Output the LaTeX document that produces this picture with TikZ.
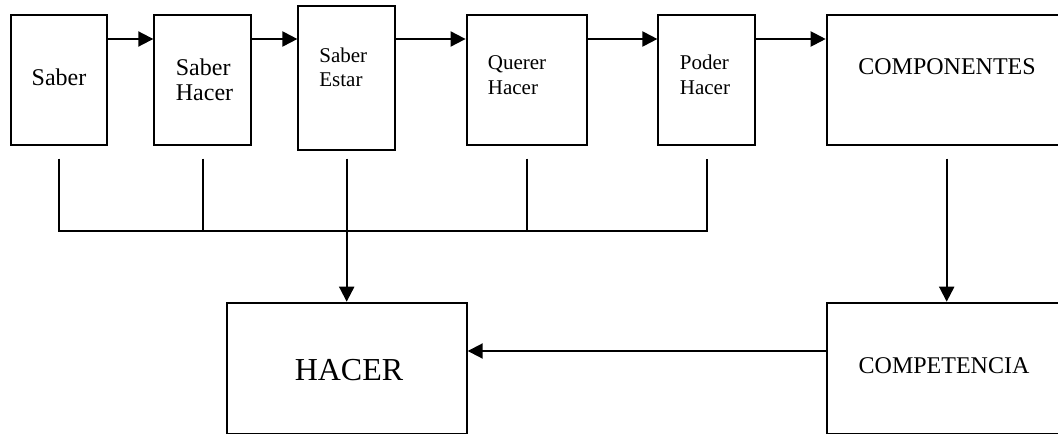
\documentclass[tikz,border=0pt]{standalone}
\usepackage{fontspec}
\setmainfont{Liberation Serif}
\usetikzlibrary{arrows.meta}
\begin{document}
\begin{tikzpicture}[x=0.5pt,y=-0.5pt,
  box/.style={draw,line width=1pt,rectangle,inner sep=0pt},
  conn/.style={line width=1pt},
  arr/.style={conn,-{Triangle[length=7.5pt,width=7.5pt]}},
  lbl/.style={inner sep=0pt,align=left},
  big/.style={font=\fontsize{12}{12.4}\selectfont},
  small/.style={font=\fontsize{10.5}{12.2}\selectfont}]
\useasboundingbox (0,0) rectangle (1058,433);
\clip (0,0) rectangle (1058,433);
% boxes
\node[box,minimum width=48pt,minimum height=65pt] (saber) at (59,80) {};
\node[box,minimum width=48.2pt,minimum height=65pt] (saberhacer) at (202.5,80) {};
\node[box,minimum width=48.3pt,minimum height=72pt] (saberestar) at (346.7,78) {};
\node[box,minimum width=60.2pt,minimum height=65pt] (querer) at (526.8,80) {};
\node[box,minimum width=48.3pt,minimum height=65pt] (poder) at (706.7,80) {};
\node[box,minimum width=120pt,minimum height=65pt] (componentes) at (946.7,80) {};
\node[box,minimum width=120pt,minimum height=65.8pt] (hacer) at (346.7,368.5) {};
\node[box,minimum width=120pt,minimum height=65.8pt] (competencia) at (946.7,368.5) {};
% labels (base anchor = baseline of the last line)
\node[lbl,big,anchor=base] (tsaber) at (59,85) {Saber};
\node[lbl,big,anchor=base west] (tsaberhacer) at (175.5,100.7) {Saber\\Hacer};
\node[lbl,small,anchor=base west] (tsaberestar) at (319,87) {Saber\\Estar};
\node[lbl,small,anchor=base west] (tquerer) at (487.5,94.3) {Querer\\Hacer};
\node[lbl,small,anchor=base west] (tpoder) at (679.5,94.3) {Poder\\Hacer};
\node[lbl,big,anchor=base] (tcomponentes) at (947,75) {COMPONENTES};
\node[lbl,font=\fontsize{16}{18}\selectfont,anchor=base] (thacer) at (349,380.7) {HACER};
\node[lbl,big,anchor=base] (tcompetencia) at (944,373.3) {COMPETENCIA};
% helper rows
\coordinate (row) at (0,39);
\coordinate (stub) at (0,158.7);
\coordinate (bus) at (0,230.7);
\coordinate (low) at (0,351);
% top chain
\draw[arr] (saber.east |- row) -- (saberhacer.west |- row);
\draw[arr] (saberhacer.east |- row) -- (saberestar.west |- row);
\draw[arr] (saberestar.east |- row) -- (querer.west |- row);
\draw[arr] (querer.east |- row) -- (poder.west |- row);
\draw[arr] (poder.east |- row) -- (componentes.west |- row);
% bus
\draw[conn] (saber.south |- stub) -- (saber.south |- bus) -- (poder.south |- bus) -- (poder.south |- stub);
\draw[conn] (saberhacer.south |- stub) -- (saberhacer.south |- bus);
\draw[conn] (querer.south |- stub) -- (querer.south |- bus);
\draw[arr] (saberestar.south |- stub) -- (hacer.north);
\draw[arr] (componentes.south |- stub) -- (competencia.north);
\draw[arr] (competencia.west |- low) -- (hacer.east |- low);
\end{tikzpicture}
\end{document}
